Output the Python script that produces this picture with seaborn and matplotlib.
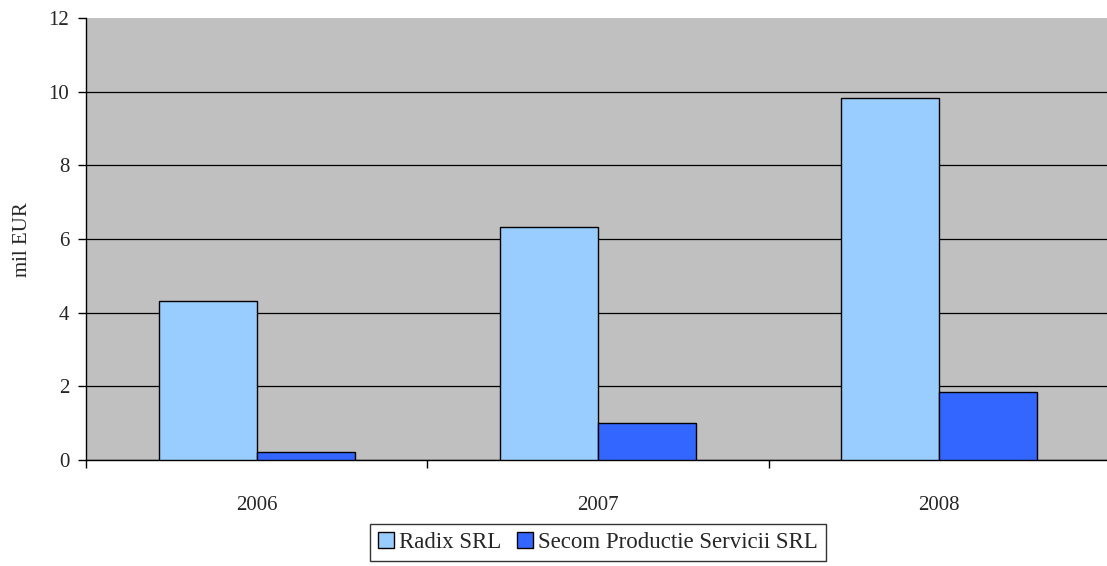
import pandas as pd
import matplotlib.pyplot as plt
import seaborn as sns

# data
years = ['2006', '2007', '2008']
radix = [4.33, 6.34, 9.83]
secom = [0.23, 1.00, 1.84]
companies = ['Radix SRL', 'Secom Productie Servicii SRL']

df = pd.DataFrame({
    'year': years * 2,
    'value': radix + secom,
    'company': [companies[0]] * 3 + [companies[1]] * 3,
})

sns.set_style('white')
plt.rcParams['font.family'] = ['Liberation Serif', 'DejaVu Serif']

fig = plt.figure(figsize=(11.07, 5.66), dpi=100)
ax = fig.add_axes([0.0777, 0.187, 0.925, 0.781])
ax.set_facecolor('#C0C0C0')

sns.barplot(data=df, x='year', y='value', hue='company', order=years,
            hue_order=companies, palette=['#99CCFF', '#3366FF'],
            saturation=1, width=0.575, edgecolor='black', linewidth=1,
            ax=ax, zorder=3)

# gridlines (none on the top edge)
ax.set_ylim(0, 12)
ax.set_yticks(range(0, 13, 2))
ax.yaxis.grid(True, color='black', linewidth=0.9, zorder=0)
ax.set_axisbelow(True)
ax.yaxis.get_gridlines()[-1].set_visible(False)
ax.set_xlim(-0.5, 2.5)

ax.spines[['top', 'right']].set_visible(False)
for s in ['left', 'bottom']:
    ax.spines[s].set_color('black')
    ax.spines[s].set_linewidth(1)

ax.tick_params(axis='y', which='major', left=True, length=6, width=1,
               color='black', labelsize=15, pad=6)
ax.tick_params(axis='x', which='major', bottom=False, labelsize=15, pad=22)
ax.set_xticks([-0.5, 0.5, 1.5, 2.5], minor=True)
ax.tick_params(axis='x', which='minor', bottom=True, length=6, width=1,
               color='black')

ax.set_xlabel('')
ax.set_ylabel('mil EUR', fontsize=15, labelpad=12)

ax.legend(loc='center', bbox_to_anchor=(0.5, -0.1855), ncol=2, frameon=True,
          fancybox=False, edgecolor='black', fontsize=16.5, handlelength=0.7,
          handleheight=0.7, handletextpad=0.2, columnspacing=0.7,
          borderpad=0.35, borderaxespad=0, title=None)
ax.get_legend().get_frame().set_linewidth(1)

fig.savefig('out.png', dpi=100)
